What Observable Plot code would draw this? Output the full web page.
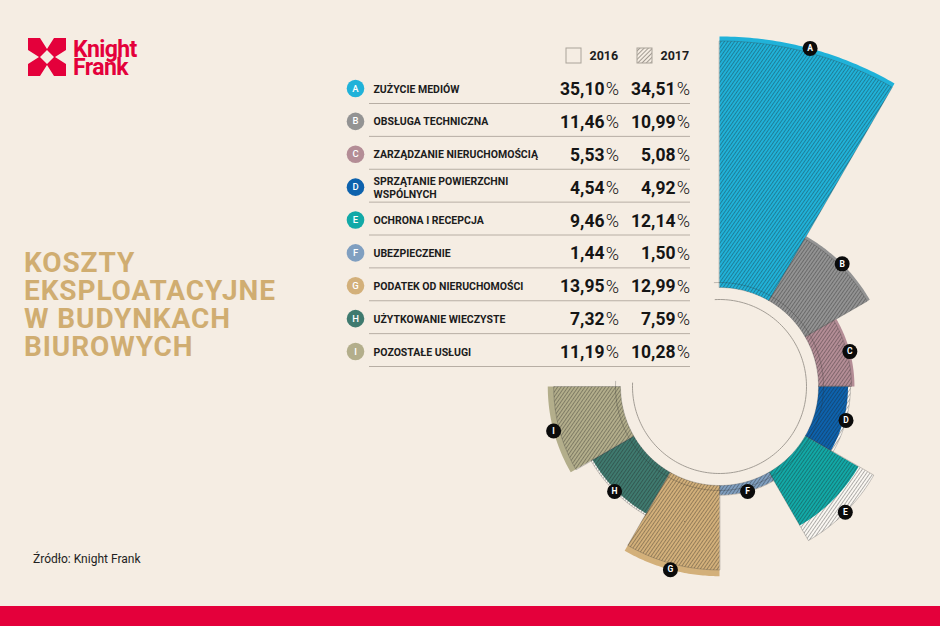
<!DOCTYPE html>
<html><head><meta charset="utf-8">
<script src="https://cdn.jsdelivr.net/npm/d3@7"></script>
<script src="https://cdn.jsdelivr.net/npm/@observablehq/plot@0.6"></script>
<style>
html,body{margin:0;padding:0}
body{background:#f5ede3;width:940px;height:626px;overflow:hidden;position:relative;font-family:Roboto,"Noto Sans",sans-serif}
#chart{position:absolute;left:0;top:0;width:940px;height:626px}
#logo{position:absolute;left:28px;top:36px}
#title{position:absolute;left:24px;top:249px;font:700 28px/28px Roboto,sans-serif;color:#d0ad71;letter-spacing:0.9px}
#source{position:absolute;left:33px;top:552px;font:400 12px/14px Roboto,sans-serif;color:#222}
#bar{position:absolute;left:0;top:606px;width:940px;height:20px;background:#e4003b}
</style></head>
<body>
<div id="chart"></div>
<svg id="logo" width="125" height="50" viewBox="0 0 125 50">
  <path fill="#e4003b" fill-rule="evenodd" d="M0,2H38V40H0Z M12,2L26,2L19,13Z M12,40L26,40L19,29Z M0,14L0,28L11,21Z M38,14L38,28L27,21Z M19,14L26,21L19,28L12,21Z"/>
  <text x="45" y="21" fill="#e4003b" font-family="Roboto" font-weight="700" font-size="23" letter-spacing="-0.6">Knight</text>
  <text x="45" y="39" fill="#e4003b" font-family="Roboto" font-weight="700" font-size="23" letter-spacing="-0.6">Frank</text>
</svg>
<div id="title">KOSZTY<br>EKSPLOATACYJNE<br>W BUDYNKACH<br>BIUROWYCH</div>
<div id="source">Źródło: Knight Frank</div>
<div id="bar"></div>
<script>
// ---- data ----
const letters = ["A","B","C","D","E","F","G","H","I"];
const categories = ["ZUŻYCIE MEDIÓW","OBSŁUGA TECHNICZNA","ZARZĄDZANIE NIERUCHOMOŚCIĄ","SPRZĄTANIE POWIERZCHNI\nWSPÓLNYCH","OCHRONA I RECEPCJA","UBEZPIECZENIE","PODATEK OD NIERUCHOMOŚCI","UŻYTKOWANIE WIECZYSTE","POZOSTAŁE USŁUGI"];
const values2016 = [35.10,11.46,5.53,4.54,9.46,1.44,13.95,7.32,11.19];
const values2017 = [34.51,10.99,5.08,4.92,12.14,1.50,12.99,7.59,10.28];
const colors = ["#20b2d9","#939393","#b48d96","#0d62ad","#12a9a7","#809fc0","#d3b07a","#3f7a6f","#b3ae8b"];
const years = ["2016","2017"];

// ---- scales / geometry ----
const cx = 719, cy = 386;
const angle = d3.scaleBand().domain(letters).range([0, 1.5 * Math.PI]);
const rad = d3.scaleLinear().domain([0, 14, 35.1]).range([99, 190, 350]);
const rowY = d3.scaleLinear().domain([0, letters.length - 1]).range([88, 351]);
const fmt = v => d3.format(".2f")(v).replace(".", ",");

function arcPts(key, a0, a1, r, n = 48) {
  const p = [];
  for (let k = 0; k <= n; k++) { const a = a0 + (a1 - a0) * k / n; p.push({key, x: cx + r * Math.sin(a), y: cy - r * Math.cos(a)}); }
  return p;
}
function wedge(key, l, v, extra = {}) {
  const a0 = angle(l), a1 = a0 + angle.bandwidth();
  return [...arcPts(key, a0, a1, rad(v)), ...arcPts(key, a1, a0, rad(0))].map(d => ({...d, ...extra}));
}
const w2016 = letters.flatMap((l, i) => wedge("16" + l, l, values2016[i], {color: colors[i]}));
const w2017 = letters.flatMap((l, i) => wedge("17" + l, l, values2017[i]));
const innerArc = arcPts("in", -0.05, 1.5 * Math.PI + 0.05, rad(0) + 5, 160);
const ring = arcPts("ring", -0.05, 1.5 * Math.PI + 0.04, rad(0) - 12, 160);
const badges = letters.map((l, i) => {
  const a = angle(l) + angle.bandwidth() / 2, r = rad(Math.max(values2016[i], values2017[i]));
  return {l, x: cx + r * Math.sin(a), y: cy - r * Math.cos(a)};
});
const table = letters.map((l, i) => ({l, cat: categories[i], c: colors[i], v16: values2016[i], v17: values2017[i], y: rowY(i)}));
const legend = years.map((y, i) => ({year: y, x: 566 + i * 71, y: 55.5, fill: i ? "url(#hatchL)" : "none"}));

const plot = Plot.plot({
  width: 940, height: 626, margin: 0,
  x: {domain: [0, 940], range: [0, 940], axis: null},
  y: {domain: [0, 626], range: [0, 626], axis: null},
  color: {type: "identity"},
  style: {background: "transparent", fontFamily: "Roboto, sans-serif", overflow: "visible"},
  marks: [
    // base for 2017 extension
    Plot.line(w2017, {x: "x", y: "y", z: "key", fill: "#fbf8f3", stroke: "none", curve: "linear-closed"}),
    // 2016 solid
    Plot.line(w2016, {x: "x", y: "y", z: "key", fill: "color", stroke: "none", curve: "linear-closed"}),
    // 2017 hatched
    Plot.line(w2017, {x: "x", y: "y", z: "key", fill: "url(#hatch)", stroke: "#3a3a3a", strokeOpacity: 0.45, strokeWidth: 0.6, curve: "linear-closed"}),
    Plot.line(innerArc, {x: "x", y: "y", stroke: "#2a2a2a", strokeOpacity: 0.35, strokeWidth: 0.8}),
    Plot.line(ring, {x: "x", y: "y", stroke: "#9a948c", strokeWidth: 0.9}),
    Plot.dot(badges, {x: "x", y: "y", r: 7.5, fill: "#0b0b0b", stroke: "none"}),
    Plot.text(badges, {x: "x", y: "y", text: "l", fill: "white", fontSize: 8.5, fontWeight: 700}),
    // table
    Plot.ruleY(table, {y: d => d.y + 15, x1: 369, x2: 690, stroke: "#b7aea4", strokeWidth: 1}),
    Plot.dot(table, {x: 355, y: "y", r: 8.8, fill: "c", stroke: "none"}),
    Plot.text(table, {x: 355, y: "y", text: "l", fill: "white", fontSize: 9.5, fontWeight: 500}),
    Plot.text(table, {x: 373, y: "y", text: "cat", textAnchor: "start", fill: "#1c1c1c", fontSize: 10.5, fontWeight: 700, lineHeight: 1.22}),
    Plot.text(table, {x: 604, y: d => d.y + 1, text: d => fmt(d.v16), textAnchor: "end", fill: "#151515", fontSize: 17.5, fontWeight: 700}),
    Plot.text(table, {x: 618.5, y: d => d.y + 1, text: () => "%", textAnchor: "end", fill: "#151515", fontSize: 18, fontWeight: 300}),
    Plot.text(table, {x: 675, y: d => d.y + 1, text: d => fmt(d.v17), textAnchor: "end", fill: "#151515", fontSize: 17.5, fontWeight: 700}),
    Plot.text(table, {x: 689.5, y: d => d.y + 1, text: () => "%", textAnchor: "end", fill: "#151515", fontSize: 18, fontWeight: 300}),
    // legend
    Plot.rect(legend, {x1: "x", x2: d => d.x + 15, y1: d => d.y - 7.5, y2: d => d.y + 7.5, fill: "fill", stroke: "#aaa39a", strokeWidth: 1}),
    Plot.text(legend, {x: d => d.x + 23, y: "y", text: "year", textAnchor: "start", fill: "#1c1c1c", fontSize: 12.5, fontWeight: 700})
  ]
});

const svg = d3.select(plot);
const defs = svg.insert("defs", ":first-child");
const p1 = defs.append("pattern").attr("id", "hatch").attr("patternUnits", "userSpaceOnUse")
  .attr("width", 2.8).attr("height", 2.8).attr("patternTransform", "rotate(35)");
p1.append("line").attr("x1", 0.5).attr("y1", 0).attr("x2", 0.5).attr("y2", 2.8)
  .attr("stroke", "#1c1c1c").attr("stroke-opacity", 0.38).attr("stroke-width", 0.9);
const p2 = defs.append("pattern").attr("id", "hatchL").attr("patternUnits", "userSpaceOnUse")
  .attr("width", 3).attr("height", 3).attr("patternTransform", "rotate(45)");
p2.append("line").attr("x1", 0.5).attr("y1", 0).attr("x2", 0.5).attr("y2", 3)
  .attr("stroke", "#8d867e").attr("stroke-width", 0.8);

document.getElementById("chart").appendChild(plot);
</script>
</body></html>
